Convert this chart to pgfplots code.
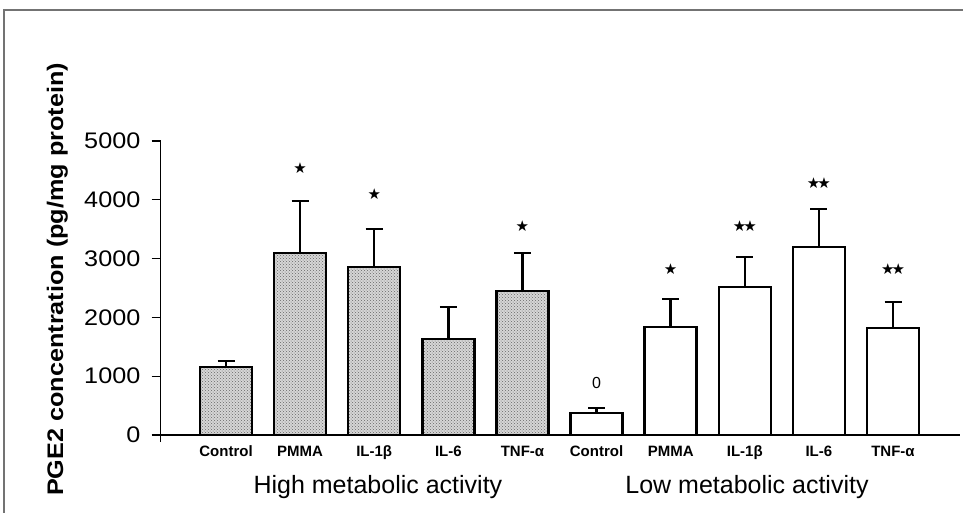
\documentclass[border=0pt]{standalone}
\usepackage{pgfplots}
\pgfplotsset{compat=1.18}
\usepackage{fontspec}
\setmainfont{Liberation Sans}
\newfontfamily\wide{Liberation Sans}[FakeStretch=1.12]
\newfontfamily\dejavu{DejaVu Sans}
\usetikzlibrary{patterns}
\begin{document}
\begin{tikzpicture}[x=1pt,y=1pt]
\path[use as bounding box] (0,0) rectangle (963,512);
\draw[black!55, line width=1.2pt] (4,-5) -- (4,502) -- (970,502);
\begin{axis}[
  at={(160.5pt,77pt)}, anchor=south west,
  scale only axis, width=799.5pt, height=294pt,
  xmin=-0.884, xmax=9.904, ymin=0, ymax=5000,
  axis lines=left,
  axis line style={-, line width=1.3pt},
  x axis line style={shorten <=-8pt},
  y axis line style={shorten <=-7pt},
  ytick={0,1000,2000,3000,4000,5000},
  yticklabels={0,1000,2000,3000,4000,5000},
  tick align=outside,
  major tick length=9pt,
  tick style={line width=1.2pt, black},
  major x tick style=transparent,
  yticklabel style={font=\wide\fontsize{22.5}{22.5}\selectfont, inner sep=0pt, xshift=-11pt},
  xtick={0,...,9},
  xticklabels={Control,PMMA,IL-1β,IL-6,TNF-α,Control,PMMA,IL-1β,IL-6,TNF-α},
  xticklabel style={font=\bfseries\fontsize{15}{15}\selectfont, yshift=2pt,
    text height=11pt, text depth=3pt},
  clip=false,
]
\addplot[ybar, bar width=52pt, bar shift=0pt, draw=black, line width=2.5pt,
  fill=black!16, postaction={pattern=crosshatch dots, pattern color=black!60},
  error bars/.cd, y dir=plus, y explicit,
  error bar style={line width=2.4pt},
  error mark options={rotate=90, mark size=8.5pt, line width=2.4pt}]
coordinates {
  (0,1155) +- (0,105)
  (1,3095) +- (0,885)
  (2,2857) +- (0,643)
  (3,1630) +- (0,550)
  (4,2450) +- (0,645)
};
\addplot[ybar, bar width=52pt, bar shift=0pt, draw=black, line width=2.5pt,
  fill=white,
  error bars/.cd, y dir=plus, y explicit,
  error bar style={line width=2.4pt},
  error mark options={rotate=90, mark size=8.5pt, line width=2.4pt}]
coordinates {
  (5,375) +- (0,85)
  (6,1840) +- (0,475)
  (7,2520) +- (0,510)
  (8,3200) +- (0,645)
  (9,1820) +- (0,440)
};
\addplot[draw=none, mark=none, nodes near coords, point meta=explicit symbolic,
  nodes near coords style={anchor=center, text=black,
    font=\dejavu\fontsize{15}{15}\selectfont, inner sep=0pt}]
coordinates {
  (1,4540) [★]
  (2,4100) [★]
  (4,3550) [★]
  (6,2820) [★]
  (7,3555) [★\kern-0.2em★]
  (8,4285) [★\kern-0.2em★]
  (9,2825) [★\kern-0.2em★]
};
\addplot[draw=none, mark=none, nodes near coords, point meta=explicit symbolic,
  nodes near coords style={anchor=center, text=black,
    font=\fontsize{16}{16}\selectfont, inner sep=0pt}]
coordinates {
  (5,885) [0]
};
\node[font=\fontsize{25}{25}\selectfont, anchor=center] at (axis cs:2.05,0) [yshift=-52pt] {High metabolic activity};
\node[font=\fontsize{25}{25}\selectfont, anchor=center] at (axis cs:7.03,0) [yshift=-52pt] {Low metabolic activity};
\end{axis}
\node[rotate=90, anchor=base east, inner sep=0pt,
  font=\wide\bfseries\fontsize{22.5}{22.5}\selectfont] at (63,449) {PGE2 concentration (pg/mg protein)};
\end{tikzpicture}
\end{document}
